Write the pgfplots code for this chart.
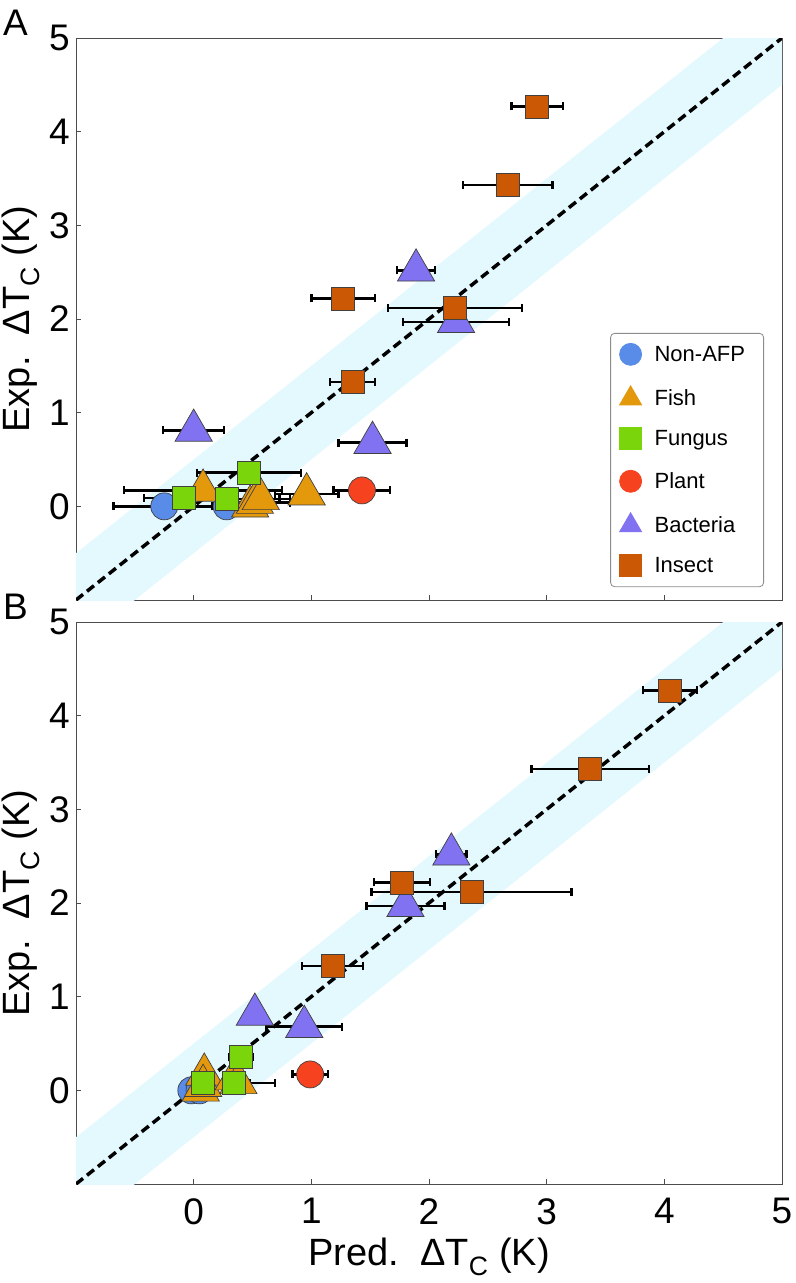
\documentclass[border=0pt]{standalone}
\usepackage{fontspec}
\setmainfont{Liberation Sans}
\usepackage{pgfplots}
\pgfplotsset{compat=1.18}
\definecolor{cNon}{RGB}{88,140,232}
\definecolor{cFish}{RGB}{228,152,12}
\definecolor{cFun}{RGB}{122,214,10}
\definecolor{cPla}{RGB}{246,66,30}
\definecolor{cBac}{RGB}{128,114,240}
\definecolor{cIns}{RGB}{202,88,4}
\definecolor{band}{RGB}{228,249,253}
\pgfplotsset{
  myaxis/.style={
    width=706bp, height=562bp, scale only axis,
    xmin=-1, xmax=5, ymin=-1, ymax=5,
    xtick={0,...,5}, ytick={0,...,5},
    tick align=inside, xtick pos=bottom, ytick pos=left,
    major tick length=5bp,
    axis line style={draw=black!70, line width=0.8bp},
    tick style={draw=black!70, line width=0.8bp},
    /pgf/number format/assume math mode=true,
    ticklabel style={font=\fontsize{37bp}{40bp}\selectfont, inner sep=0pt},
    yticklabel style={xshift=-6bp},
    xticklabel style={yshift=-14bp},
    label style={font=\fontsize{38bp}{44bp}\selectfont, inner sep=0pt},
    ylabel={Exp.\ \ ΔT\textsubscript{C} (K)},
    ylabel style={at={(axis description cs:-0.051,0.5)}, anchor=south},
  },
  ebar/.style={error bars/.cd, x dir=both, x explicit,
    error bar style={line width=2.4bp, black},
    error mark options={black, line width=2.4bp, mark size=4bp, rotate=90}},
  mk/.style n args={3}{only marks, forget plot, mark=#1, mark size=#2,
    mark options={fill=#3, draw=black!75, line width=0.7bp}, ebar},
  legimg/.style={only marks, mark size=#1,
    legend image code/.code={\draw[mark repeat=2,mark phase=2,##1] plot coordinates {(0bp,0bp) (11bp,0bp) (22bp,0bp)};}},
  dline/.style={black, line width=3.5bp, dash pattern=on 9bp off 5bp, forget plot},
}
\newcommand{\lt}[1]{\makebox[100bp][l]{#1}}
\begin{document}
\begin{tikzpicture}[x=1bp,y=1bp]
\path[use as bounding box] (0,0) rectangle (796,-1283);
\node[anchor=north west, inner sep=0pt, font=\fontsize{37bp}{40bp}\selectfont] at (3,-10) {A};
\node[anchor=north west, inner sep=0pt, font=\fontsize{37bp}{40bp}\selectfont] at (3,-594) {B};
% ---------------- Panel A ----------------
\begin{axis}[myaxis, at={(76bp,-600bp)}, anchor=south west, xticklabels={},
  legend style={at={(0.9745,0.023)}, anchor=south east, draw=black!45,
    rounded corners=4bp, line width=0.8bp, font=\fontsize{22bp}{26bp}\selectfont,
    inner xsep=9bp, inner ysep=10bp, row sep=20.5bp, column sep=13bp,
    cells={anchor=west}, nodes={inner sep=0pt}}]
\addplot[fill=band, draw=none, forget plot] coordinates {(-1,-1.5) (5,4.5) (5,5.5) (-1,-0.5)} -- cycle;
\addplot[dline] coordinates {(-1,-1) (5,5)};
\addplot[mk={*}{13.5bp}{cNon}] coordinates {(-0.25,0) +- (0.43,0) (0.28,0) +- (0.12,0)};
\addplot[mk={triangle*}{21.5bp}{cFish}] coordinates {(0.08,0.17) +- (0.67,0) (0.48,0.0) +- (0.12,0) (0.52,0.04) +- (0.3,0) (0.57,0.08) +- (0.25,0) (0.96,0.13) +- (0.27,0)};
\addplot[mk={square*}{11.5bp}{cFun}] coordinates {(0.47,0.36) +- (0.44,0) (-0.08,0.09) +- (0.34,0) (0.28,0.08) +- (0.45,0)};
\addplot[mk={*}{13.5bp}{cPla}] coordinates {(1.43,0.17) +- (0.24,0)};
\addplot[mk={triangle*}{21.5bp}{cBac}] coordinates {(1.89,2.52) +- (0.16,0) (2.23,1.97) +- (0.45,0) (0.0,0.81) +- (0.26,0) (1.52,0.68) +- (0.29,0)};
\addplot[mk={square*}{11.5bp}{cIns}] coordinates {(2.92,4.27) +- (0.22,0) (2.67,3.43) +- (0.38,0) (1.27,2.22) +- (0.27,0) (2.22,2.12) +- (0.57,0) (1.35,1.33) +- (0.19,0)};
\addlegendimage{legimg=11bp, mark=*, cNon}
\addlegendentry{\lt{Non-AFP}}
\addlegendimage{legimg=12.7bp, mark=triangle*, cFish}
\addlegendentry{\lt{Fish}}
\addlegendimage{legimg=11bp, mark=square*, cFun}
\addlegendentry{\lt{Fungus}}
\addlegendimage{legimg=11bp, mark=*, cPla}
\addlegendentry{\lt{Plant}}
\addlegendimage{legimg=12.7bp, mark=triangle*, cBac}
\addlegendentry{\lt{Bacteria}}
\addlegendimage{legimg=11bp, mark=square*, cIns}
\addlegendentry{\lt{Insect}}
\end{axis}
% ---------------- Panel B ----------------
\begin{axis}[myaxis, at={(76bp,-1184bp)}, anchor=south west,
  xlabel={Pred.\ \ ΔT\textsubscript{C} (K)},
  xlabel style={at={(axis description cs:0.5,-0.096)}, anchor=north}]
\addplot[fill=band, draw=none, forget plot] coordinates {(-1,-1.5) (5,4.5) (5,5.5) (-1,-0.5)} -- cycle;
\addplot[dline] coordinates {(-1,-1) (5,5)};
\addplot[mk={*}{13.5bp}{cNon}] coordinates {(-0.02,0) +- (0.05,0) (0.05,0) +- (0.05,0)};
\addplot[mk={triangle*}{21.5bp}{cFish}] coordinates {(0.09,0.17) +- (0.05,0) (0.06,0.0) +- (0.08,0) (0.08,0.05) +- (0.05,0) (0.34,0.12) +- (0.08,0) (0.38,0.08) +- (0.1,0)};
\addplot[mk={square*}{11.5bp}{cFun}] coordinates {(0.40,0.36) +- (0.1,0) (0.08,0.08) +- (0.08,0) (0.34,0.08) +- (0.35,0)};
\addplot[mk={*}{13.5bp}{cPla}] coordinates {(0.99,0.17) +- (0.15,0)};
\addplot[mk={triangle*}{21.5bp}{cBac}] coordinates {(2.19,2.52) +- (0.13,0) (1.80,1.97) +- (0.33,0) (0.52,0.81) +- (0.07,0) (0.94,0.68) +- (0.32,0)};
\addplot[mk={square*}{11.5bp}{cIns}] coordinates {(4.05,4.27) +- (0.23,0) (3.37,3.43) +- (0.5,0) (1.77,2.22) +- (0.24,0) (2.36,2.12) +- (0.85,0) (1.18,1.33) +- (0.26,0)};
\end{axis}
\end{tikzpicture}
\end{document}
